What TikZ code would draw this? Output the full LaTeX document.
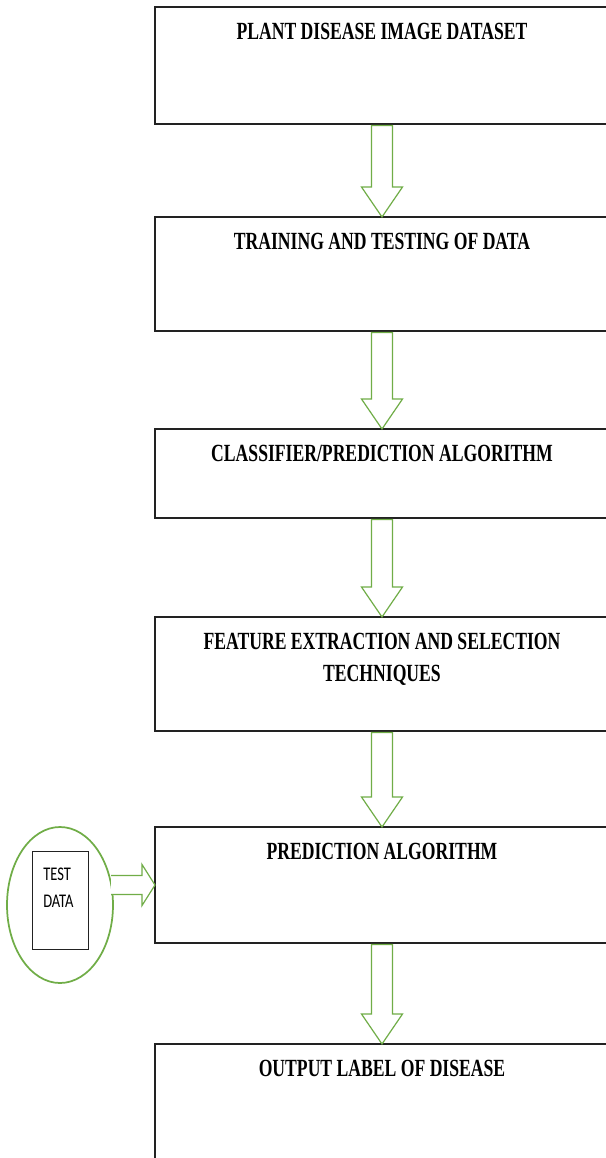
\documentclass[tikz,border=0pt]{standalone}
\usepackage{fontspec}
\setmainfont{Liberation Serif}
\newfontfamily\titlefont[FakeStretch=0.715]{Liberation Serif}
\newfontfamily\tdfont[FakeStretch=0.75]{Carlito}
\usetikzlibrary{calc,shapes.geometric}
\definecolor{offgreen}{HTML}{70AD47}
\definecolor{boxline}{HTML}{222222}
\tikzset{
  box/.style={draw=boxline, line width=0.8pt, rectangle, inner sep=0pt, outer sep=0pt, minimum width=340.5pt},
  ttl/.style={font=\titlefont\bfseries\fontsize{18.5}{24}\selectfont, inner sep=0pt, outer sep=0pt, align=center, anchor=north},
  blk/.style={draw=offgreen, line width=0.9pt, line join=miter, fill=white},
}
\newcommand\vblk[2]{%
  \draw[blk] let \p1=($(#1.south)+(0,1.5)$), \p2=(#2.north) in
   (\x1-7.875pt,\y1) -- (\x1+7.875pt,\y1) -- (\x1+7.875pt,\y2+22.5pt)
   -- (\x1+15.375pt,\y2+22.5pt) -- (\x1,\y2) -- (\x1-15.375pt,\y2+22.5pt)
   -- (\x1-7.875pt,\y2+22.5pt) -- cycle;}
\begin{document}
\begin{tikzpicture}[x=0.75pt,y=-0.75pt]
\useasboundingbox (0,0) rectangle (606,1158);
\fill[white] (0,0) rectangle (606,1158);

\node[box, minimum height=87.75pt] (b1) at (382,65.5) {};
\node[box, minimum height=85.5pt] (b2) at (382,274) {};
\node[box, minimum height=66.75pt] (b3) at (382,473.5) {};
\node[box, minimum height=85.5pt] (b4) at (382,674) {};
\node[box, minimum height=87pt] (b5) at (382,885) {};
\node[box, minimum height=94.5pt] (b6) at (382,1107) {};

\node[ttl] (t1) at ($(b1.north)+(0,16)$) {PLANT DISEASE IMAGE DATASET};
\node[ttl] (t2) at ($(b2.north)+(0,16)$) {TRAINING AND TESTING OF DATA};
\node[ttl] (t3) at ($(b3.north)+(0,16)$) {CLASSIFIER/PREDICTION ALGORITHM};
\node[ttl] (t4) at ($(b4.north)+(0,16)$) {FEATURE EXTRACTION AND SELECTION\\TECHNIQUES};
\node[ttl] (t5) at ($(b5.north)+(0,16)$) {PREDICTION ALGORITHM};
\node[ttl] (t6) at ($(b6.north)+(0,16)$) {OUTPUT LABEL OF DISEASE};

\vblk{b1}{b2}
\vblk{b2}{b3}
\vblk{b3}{b4}
\vblk{b4}{b5}
\vblk{b5}{b6}

\node[ellipse, draw=offgreen, line width=1.3pt, inner sep=0pt, outer sep=0pt,
      minimum width=79.5pt, minimum height=117pt] (tde) at (60,905) {};
\node[rectangle, draw=boxline, line width=0.75pt, inner sep=0pt, outer sep=0pt,
      minimum width=42pt, minimum height=73.5pt] (tdr) at (60,900) {};
\node[font=\tdfont\fontsize{14.5}{20.25}\selectfont, align=left, anchor=north west,
      inner sep=0pt] (tdt) at (43,867.5) {TEST\\DATA};

\draw[blk] let \p1=(tde.east), \p2=(b5.west) in
  (\x1-1.5pt,\y2+7.1pt) -- (\x2-9.75pt,\y2+7.1pt) -- (\x2-9.75pt,\y2+15.4pt)
  -- (\x2,\y2) -- (\x2-9.75pt,\y2-15.4pt) -- (\x2-9.75pt,\y2-7.1pt)
  -- (\x1-1.5pt,\y2-7.1pt);
\end{tikzpicture}
\end{document}
